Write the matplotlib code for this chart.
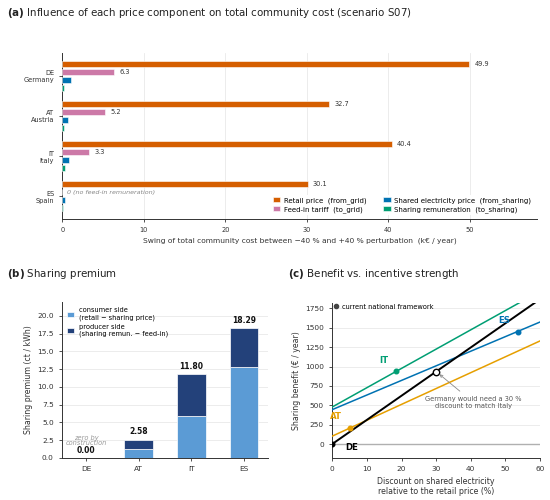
import matplotlib
matplotlib.use("Agg")
import matplotlib.pyplot as plt
import numpy as np

# ---------------- data ----------------
countries = ["DE", "AT", "IT", "ES"]
country_names = ["Germany", "Austria", "Italy", "Spain"]

# (a) swing of total community cost (k€/year)
swing_retail = [49.9, 32.7, 40.4, 30.1]
swing_feedin = [6.3, 5.2, 3.3, 0.0]
swing_shared = [1.1, 0.7, 0.8, 0.3]
swing_remun = [0.15, 0.15, 0.25, 0.1]
component_labels = ["Retail price  (from_grid)", "Feed-in tariff  (to_grid)",
                    "Shared electricity price  (from_sharing)",
                    "Sharing remuneration  (to_sharing)"]

# (b) sharing premium (ct/kWh)
premium_consumer = [0.0, 1.30, 5.95, 12.80]
premium_producer = [0.0, 1.28, 5.85, 5.49]
premium_total = [0.00, 2.58, 11.80, 18.29]

# (c) benefit vs discount
discount_ends = [0, 60]
benefit_DE = [0, 1870]
benefit_AT = [102, 1331]
benefit_IT = [478, 1972]
benefit_ES = [444, 1575]
current_discount = [0.0, 5.0, 18.5, 53.7]
current_benefit = [0, 204, 938, 1451]
match_point = (30, 935)

# ---------------- style ----------------
C_RET, C_FIT, C_SHP, C_REM = "#D55E00", "#CC79A7", "#0072B2", "#009E73"
C_CONS, C_PROD = "#5B9BD5", "#23417A"
C_LINE = {"DE": "black", "AT": "#E69F00", "IT": "#009E73", "ES": "#0072B2"}
GRID = "#e9e9e9"
TXT = "#333333"

fig = plt.figure(figsize=(5.5, 5.0), dpi=100)

def style_ax(ax, tick_fs):
    ax.spines["top"].set_visible(False)
    ax.spines["right"].set_visible(False)
    for s in ("left", "bottom"):
        ax.spines[s].set_linewidth(0.7)
        ax.spines[s].set_color("#333333")
    ax.tick_params(labelsize=tick_fs, width=0.6, length=2.5, colors="#333333")

# ---------------- (a) ----------------
axA = fig.add_axes([0.1136, 0.562, 0.8634, 0.332])
style_ax(axA, 4.8)
y = np.arange(len(countries))
h = 0.17
series = [swing_retail, swing_feedin, swing_shared, swing_remun]
cols = [C_RET, C_FIT, C_SHP, C_REM]
offs = [-0.3, -0.1, 0.1, 0.3]
for vals, c, o, lab in zip(series, cols, offs, component_labels):
    axA.barh(y + o, vals, height=h, color=c, edgecolor="white", linewidth=0.4,
             label=lab, zorder=3)
for i in range(len(countries)):
    axA.text(swing_retail[i] + 0.65, y[i] - 0.3, f"{swing_retail[i]:.1f}",
             va="center", ha="left", fontsize=4.8, color=TXT)
    if swing_feedin[i] > 0:
        axA.text(swing_feedin[i] + 0.65, y[i] - 0.1, f"{swing_feedin[i]:.1f}",
                 va="center", ha="left", fontsize=4.8, color=TXT)
    else:
        axA.text(0.5, y[i] - 0.1, "0 (no feed-in remuneration)", va="center",
                 ha="left", fontsize=4.6, color="#888888", style="italic")
axA.set_yticks(y)
axA.set_yticklabels([f"{c}\n{n}" for c, n in zip(countries, country_names)])
axA.invert_yaxis()
axA.set_xlim(0, 58.3)
axA.grid(axis="x", color=GRID, linewidth=0.6, zorder=0)
axA.set_axisbelow(True)
axA.set_xlabel("Swing of total community cost between \u221240 % and +40 % perturbation  (k\u20ac / year)",
               fontsize=5.4, color=TXT, labelpad=3)
axA.legend(loc="lower right", ncol=2, fontsize=5.0, frameon=True, facecolor="white",
           edgecolor="none", framealpha=1.0, handlelength=1.1, handleheight=0.8,
           handletextpad=0.5, columnspacing=2.4, borderaxespad=0.6, borderpad=0.3,
           labelspacing=0.35)

fig.text(0.013, 0.973, r"$\bf{(a)}$ Influence of each price component on total community cost (scenario S07)",
         fontsize=7.4, color="#222222", va="center", ha="left")

# ---------------- (b) ----------------
axB = fig.add_axes([0.113, 0.084, 0.374, 0.312])
style_ax(axB, 5.3)
x = np.arange(len(countries))
w = 0.55
axB.bar(x, premium_consumer, width=w, color=C_CONS, edgecolor="white", linewidth=0.5,
        label="consumer side\n(retail \u2212 sharing price)", zorder=3)
axB.bar(x, premium_producer, width=w, bottom=premium_consumer, color=C_PROD,
        edgecolor="white", linewidth=0.5,
        label="producer side\n(sharing remun. \u2212 feed-in)", zorder=3)
for i in range(len(countries)):
    axB.text(x[i], premium_total[i] + 0.45, f"{premium_total[i]:.2f}", ha="center",
             va="bottom", fontsize=5.5, fontweight="bold", color="#111111")
axB.text(x[0], 2.45, "zero by\nconstruction", ha="center", va="center", fontsize=4.8,
         color="#999999", style="italic", linespacing=0.9)
axB.set_xticks(x)
axB.set_xticklabels(countries)
axB.set_ylim(0, max(premium_total) * 1.2)
axB.set_yticks(np.arange(0, 20.1, 2.5))
axB.grid(axis="y", color=GRID, linewidth=0.6, zorder=0)
axB.set_axisbelow(True)
axB.set_ylabel("Sharing premium (ct / kWh)", fontsize=5.6, color=TXT, labelpad=3)
axB.legend(loc="upper left", fontsize=4.8, frameon=False, handlelength=1.0,
           handleheight=0.8, labelspacing=0.4, borderaxespad=0.4, handletextpad=0.8)

fig.text(0.013, 0.452, r"$\bf{(b)}$ Sharing premium", fontsize=7.4, color="#222222",
         va="center", ha="left")

# ---------------- (c) ----------------
axC = fig.add_axes([0.604, 0.084, 0.378, 0.310])
style_ax(axC, 5.3)
axC.axhline(0, color="#b0b0b0", linewidth=1.0, zorder=1)
benefits = {"DE": benefit_DE, "AT": benefit_AT, "IT": benefit_IT, "ES": benefit_ES}
for c in ["AT", "ES", "IT", "DE"]:
    lw = 1.4 if c == "DE" else 1.1
    axC.plot(discount_ends, benefits[c], color=C_LINE[c], linewidth=lw, zorder=3)
for i, c in enumerate(countries):
    axC.plot(current_discount[i], current_benefit[i], "o", color=C_LINE[c],
             markersize=3.3, zorder=5)
axC.plot(*match_point, "o", markerfacecolor="white", markeredgecolor="black",
         markeredgewidth=1.0, markersize=4.6, zorder=6)
axC.annotate("Germany would need a 30 %\ndiscount to match Italy", xy=match_point,
             xytext=(40.7, 540), ha="center", va="center", fontsize=4.8, color="#555555",
             arrowprops=dict(arrowstyle="->", color="#888888", lw=0.6,
                             shrinkA=2, shrinkB=3), zorder=7)
axC.text(15.0, 1084, "IT", color=C_LINE["IT"], fontsize=6.2, fontweight="bold",
         ha="center", va="center")
axC.text(49.7, 1597, "ES", color=C_LINE["ES"], fontsize=6.2, fontweight="bold",
         ha="center", va="center")
axC.text(1.0, 350, "AT", color=C_LINE["AT"], fontsize=6.2, fontweight="bold",
         ha="center", va="center")
axC.text(5.6, -40, "DE", color=C_LINE["DE"], fontsize=6.2, fontweight="bold",
         ha="center", va="center")
axC.plot([], [], "o", color="#444444", markersize=3.0, linestyle="none",
         label="current national framework")
axC.legend(loc="upper left", fontsize=4.8, frameon=False, handlelength=0.8,
           handletextpad=0.6, borderaxespad=0.0, borderpad=0.1)
axC.set_xlim(0, 60)
axC.set_ylim(-180, 1820)
axC.set_xticks(np.arange(0, 61, 10))
axC.set_yticks(np.arange(0, 1751, 250))
axC.grid(axis="y", color=GRID, linewidth=0.6, zorder=0)
axC.set_axisbelow(True)
axC.set_xlabel("Discount on shared electricity\nrelative to the retail price (%)",
               fontsize=5.7, color=TXT, labelpad=3)
axC.set_ylabel("Sharing benefit (\u20ac / year)", fontsize=5.6, color=TXT, labelpad=3)

fig.text(0.524, 0.452, r"$\bf{(c)}$ Benefit vs. incentive strength", fontsize=7.4,
         color="#222222", va="center", ha="left")

fig.savefig("out.png", dpi=100, facecolor="white")
